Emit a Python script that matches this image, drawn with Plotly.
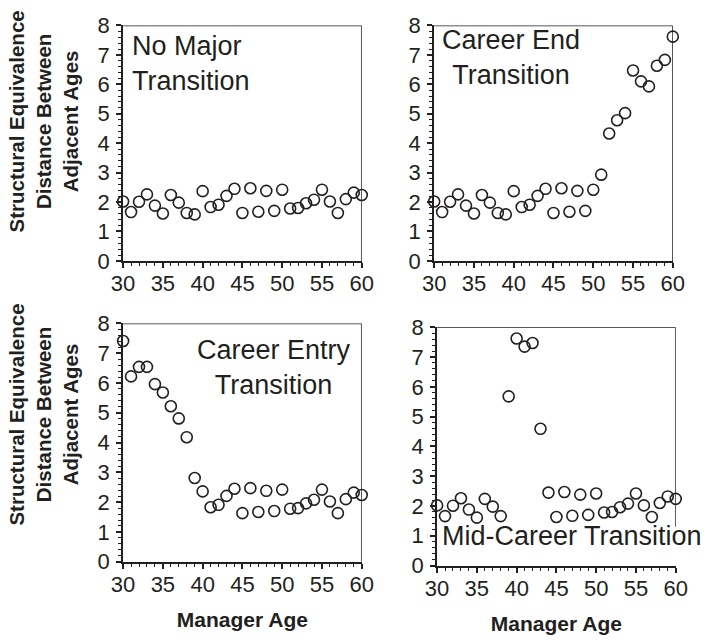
import plotly.graph_objects as go

W, H = 708, 642

ages = list(range(30, 61))

no_major = [2.02, 1.66, 2.01, 2.26, 1.88, 1.61, 2.24, 1.98, 1.63, 1.58,
            2.37, 1.83, 1.91, 2.21, 2.45, 1.63, 2.47, 1.67, 2.38, 1.70,
            2.42, 1.78, 1.80, 1.96, 2.08, 2.42, 2.02, 1.63, 2.10, 2.32, 2.24]

career_end = [2.02, 1.66, 2.01, 2.26, 1.88, 1.61, 2.24, 1.98, 1.63, 1.58,
              2.37, 1.83, 1.91, 2.21, 2.45, 1.63, 2.47, 1.67, 2.38, 1.70,
              2.42, 2.93, 4.33, 4.78, 5.02, 6.47, 6.10, 5.93, 6.63, 6.83, 7.62]

career_entry = [7.41, 6.22, 6.54, 6.54, 5.96, 5.68, 5.22, 4.81, 4.18, 2.81,
                2.36, 1.83, 1.91, 2.21, 2.45, 1.63, 2.47, 1.67, 2.38, 1.70,
                2.42, 1.78, 1.80, 1.96, 2.08, 2.42, 2.02, 1.63, 2.10, 2.32, 2.24]

mid_career = [2.02, 1.66, 2.01, 2.26, 1.88, 1.61, 2.24, 1.98, 1.66, 5.68,
              7.62, 7.35, 7.47, 4.59, 2.45, 1.63, 2.47, 1.67, 2.38, 1.70,
              2.42, 1.78, 1.80, 1.96, 2.08, 2.42, 2.02, 1.63, 2.10, 2.32, 2.24]

panel_series = [no_major, career_end, career_entry, mid_career]
panel_labels = ["No Major<br>Transition", "Career End<br>Transition",
                "Career Entry<br>Transition", "Mid-Career Transition"]
y_title = "Structural Equivalence<br>Distance Between<br>Adjacent Ages"
x_title = "Manager Age"
y_ticks = list(range(0, 9))
x_ticks = [30, 35, 40, 45, 50, 55, 60]

FONT = "Liberation Sans, Arial, sans-serif"
INK = "#231f20"

# plot areas in pixels: (left, right, top, bottom)
boxes = [(115, 362, 14, 259), (437, 684, 14, 259),
         (115, 362, 324, 572), (440, 687, 328, 576)]


def px_x(v):
    return v / W


def px_y(v):
    return 1 - v / H


fig = go.Figure()
layout = dict(
    width=W, height=H,
    margin=dict(l=0, r=0, t=0, b=0),
    paper_bgcolor="white", plot_bgcolor="white",
    showlegend=False,
    font=dict(family=FONT, color=INK),
)
shapes = []
annotations = []

for i, (series, box) in enumerate(zip(panel_series, boxes)):
    n = "" if i == 0 else str(i + 1)
    l, r, t, b = box
    xa = "xaxis" + n
    ya = "yaxis" + n
    fig.add_trace(go.Scatter(
        x=ages, y=series, mode="markers",
        xaxis="x" + n, yaxis="y" + n,
        marker=dict(symbol="circle-open", size=11, color=INK,
                    line=dict(width=1.6, color=INK)),
        cliponaxis=False,
    ))
    layout[xa] = dict(
        domain=[px_x(l), px_x(r)], anchor="y" + n, range=[30, 60],
        tickvals=x_ticks, ticks="outside", ticklen=5, tickwidth=1.5,
        tickcolor=INK, showline=True, linewidth=2, linecolor=INK,
        showgrid=False, zeroline=False,
        tickfont=dict(size=22, family=FONT, color=INK),
        ticklabelstandoff=-3,
        minor=dict(dtick=1, ticks="outside", ticklen=3, tickwidth=1,
                   tickcolor=INK, showgrid=False),
    )
    layout[ya] = dict(
        domain=[px_y(b), px_y(t)], anchor="x" + n, range=[0, 8],
        tickvals=y_ticks, ticks="outside", ticklen=5, tickwidth=1.5,
        tickcolor=INK, showline=True, linewidth=2, linecolor=INK,
        showgrid=False, zeroline=False,
        tickfont=dict(size=22, family=FONT, color=INK),
        ticklabelstandoff=2,
        minor=dict(dtick=0.2, ticks="outside", ticklen=3, tickwidth=1,
                   tickcolor=INK, showgrid=False),
    )
    if i >= 2:
        layout[xa]["title"] = dict(text="<b>" + x_title + "</b>",
                                   font=dict(size=21, family=FONT, color=INK),
                                   standoff=16)
    # top frame line
    shapes.append(dict(type="line", xref="x" + n, yref="y" + n,
                       x0=30, x1=60, y0=8, y1=8,
                       line=dict(color=INK, width=1.5)))
    # right frame line (broken under the label in the last panel)
    shapes.append(dict(type="line", xref="x" + n, yref="y" + n,
                       x0=60, x1=60, y0=(1.3 if i == 3 else 0), y1=8,
                       line=dict(color=INK, width=1.5)))

LABEL_FONT = dict(size=27, family=FONT, color=INK)

# panel labels
annotations.append(dict(xref="paper", yref="paper", x=px_x(122), y=px_y(54),
                        xanchor="left", yanchor="middle", align="left",
                        text=panel_labels[0], showarrow=False,
                        font=LABEL_FONT))
annotations.append(dict(xref="paper", yref="paper", x=px_x(517), y=px_y(47),
                        xanchor="center", yanchor="middle", align="center",
                        text=panel_labels[1], showarrow=False,
                        font=LABEL_FONT))
annotations.append(dict(xref="paper", yref="paper", x=px_x(271), y=px_y(370),
                        xanchor="center", yanchor="middle", align="center",
                        text=panel_labels[2], showarrow=False,
                        font=LABEL_FONT))
annotations.append(dict(xref="paper", yref="paper", x=px_x(443), y=px_y(545),
                        xanchor="left", yanchor="middle", align="left",
                        text=panel_labels[3], showarrow=False,
                        font=LABEL_FONT))

# y titles
for cy in (114, 419):
    annotations.append(dict(xref="paper", yref="paper", x=px_x(32), y=px_y(cy),
                            xanchor="center", yanchor="middle",
                            text="<b>" + y_title + "</b>", textangle=-90,
                            showarrow=False,
                            font=dict(size=20.5, family=FONT, color=INK)))

layout["shapes"] = shapes
layout["annotations"] = annotations
fig.update_layout(**layout)

fig.write_html("out.html")
